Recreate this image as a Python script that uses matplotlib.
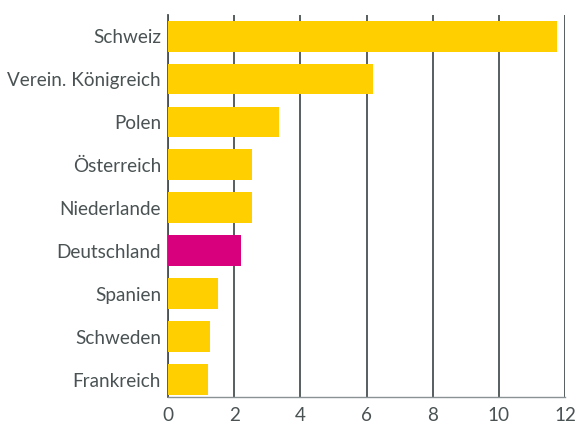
import matplotlib
matplotlib.use("Agg")
import matplotlib.pyplot as plt

countries = ["Schweiz", "Verein. Königreich", "Polen", "Österreich", "Niederlande",
             "Deutschland", "Spanien", "Schweden", "Frankreich"]
values = [11.76, 6.19, 3.36, 2.54, 2.54, 2.21, 1.51, 1.27, 1.21]
highlight = "Deutschland"
xticks = [0, 2, 4, 6, 8, 10, 12]

yellow = "#FFCF00"
magenta = "#D9007E"
grid_col = "#4A5254"
text_col = "#4A5254"

plt.rcParams['font.family'] = ['Lato', 'DejaVu Sans']

fig = plt.figure(figsize=(5.76, 4.25), dpi=100)
ax = fig.add_axes([168/576, 1-397/425, (565-168)/576, (397-15)/425])

colors = [magenta if c == highlight else yellow for c in countries]
ypos = list(range(len(countries)))
ax.barh(ypos, values, height=0.72, color=colors, zorder=3)

ax.set_xlim(0, 12)
ax.set_ylim(8.4, -0.49)
ax.set_xticks(xticks)
ax.set_xticklabels([str(t) for t in xticks])
ax.set_yticks(ypos)
ax.set_yticklabels(countries)

ax.xaxis.grid(True, color=grid_col, linewidth=1.3, zorder=1)
ax.yaxis.grid(False)
for s in ["top", "right"]:
    ax.spines[s].set_visible(False)
ax.spines["left"].set_color(grid_col)
ax.spines["left"].set_linewidth(1.3)
ax.spines["bottom"].set_color("#8A9294")
ax.spines["bottom"].set_linewidth(1.0)

ax.tick_params(axis="both", length=0, labelsize=13.6, colors=text_col)
ax.tick_params(axis="y", pad=5)
ax.tick_params(axis="x", pad=7)

fig.savefig("out.png", dpi=100)
